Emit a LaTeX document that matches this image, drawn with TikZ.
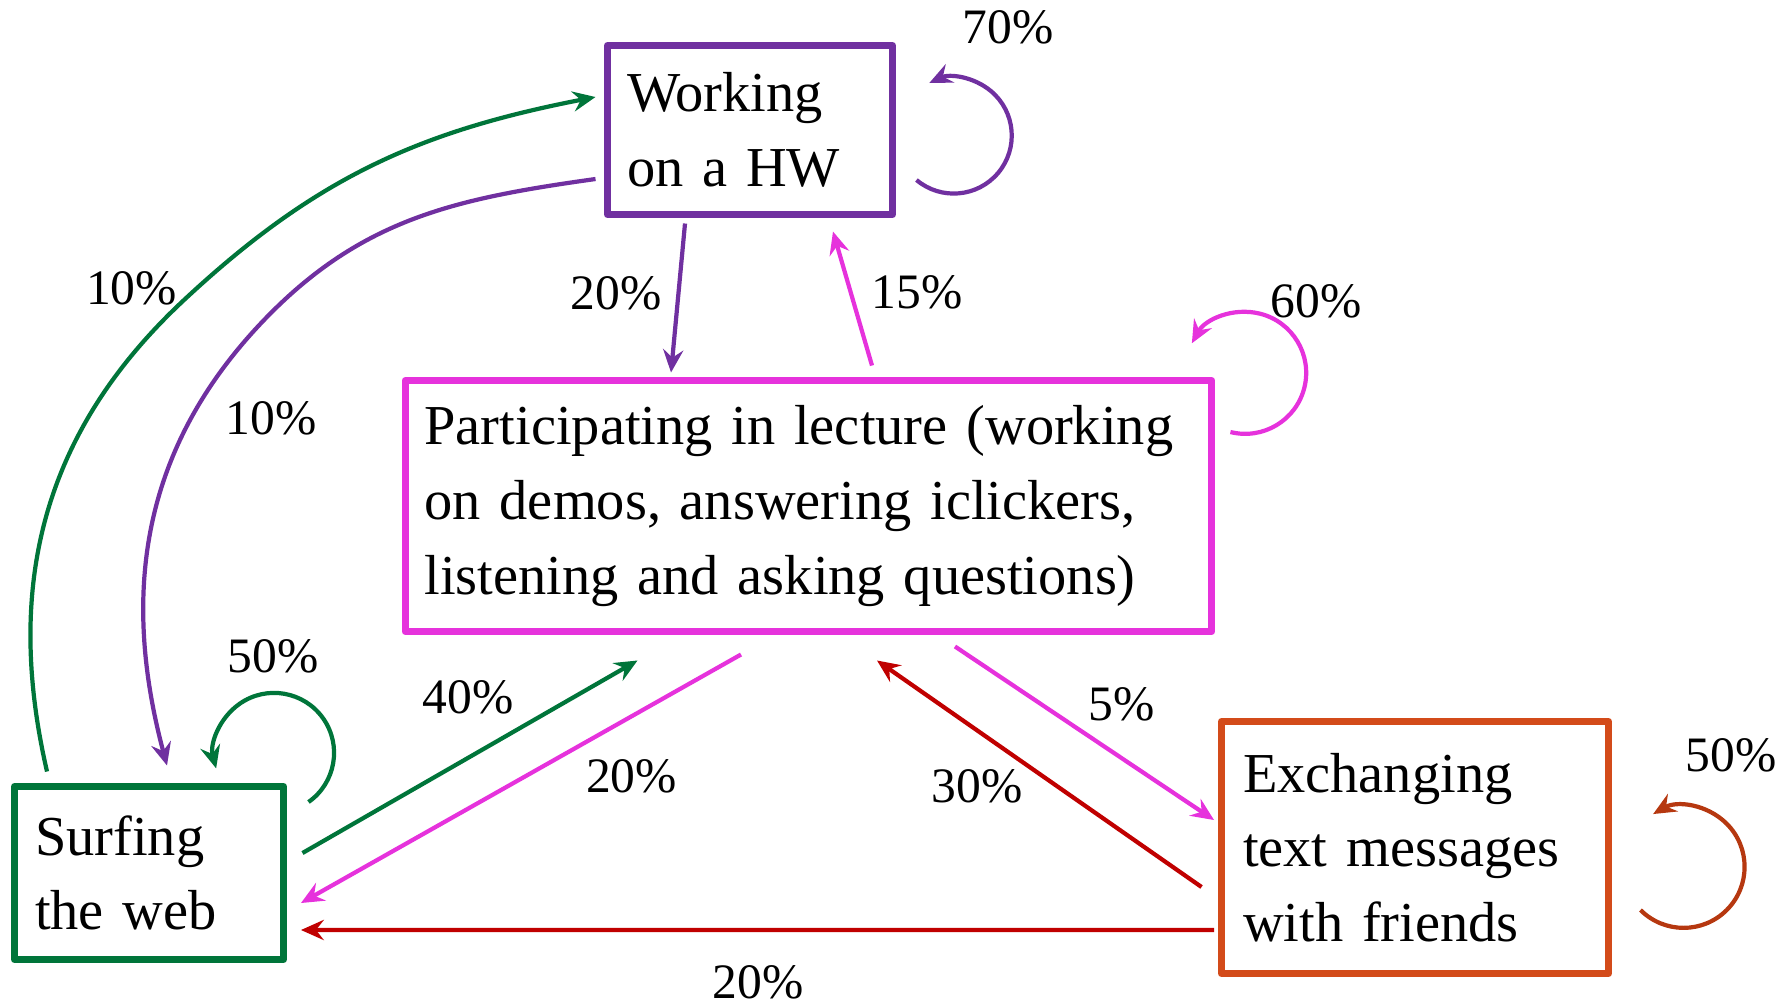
\documentclass[tikz,border=0pt]{standalone}
\usepackage{fontspec}
\setmainfont{Liberation Serif}
\usetikzlibrary{arrows.meta}
\definecolor{hwpurple}{RGB}{112,48,160}
\definecolor{webgreen}{RGB}{0,117,58}
\definecolor{lecpink}{RGB}{230,50,220}
\definecolor{txtorange}{RGB}{211,75,26}
\definecolor{looporange}{RGB}{182,56,16}
\definecolor{darkred}{RGB}{192,0,0}
\begin{document}
\begin{tikzpicture}[x=0.02cm,y=0.02cm,
  box/.style={draw, line width=4pt, line join=round, align=left, inner ysep=0pt,
    font=\fontsize{32.1}{42.5}\selectfont},
  pct/.style={inner sep=0pt, anchor=base, font=\fontsize{28.2}{34}\selectfont},
  conn/.style={line width=2.4pt, -{Stealth[length=13pt,width=11.5pt,inset=4.5pt]}}]
\useasboundingbox (0,0) rectangle (1781,-1002);

% boxes
\node[box, draw=hwpurple, minimum width=5.70cm, minimum height=3.38cm,
  inner xsep=0.39cm, text width=4.92cm] (W) at (750,-130) {Working\\on a HW};
\node[box, draw=lecpink, minimum width=16.14cm, minimum height=5.02cm,
  inner xsep=0.39cm, text width=15.36cm] (P) at (808.5,-506)
  {Participating in lecture (working\\on demos, answering iclickers,\\listening and asking questions)};
\node[box, draw=webgreen, minimum width=5.38cm, minimum height=3.46cm,
  inner xsep=0.41cm, text width=4.56cm] (S) at (149,-873) {Surfing\\the web};
\node[box, draw=txtorange, minimum width=7.74cm, minimum height=5.04cm,
  inner xsep=0.43cm, text width=6.88cm] (E) at (1415,-847.5)
  {Exchanging\\text messages\\with friends};

% straight connectors
\draw[conn, hwpurple] ([xshift=-1.30cm,yshift=-0.11cm]W.south) -- ([xshift=-2.75cm,yshift=0.09cm]P.north);
\draw[conn, lecpink] ([xshift=1.27cm,yshift=0.23cm]P.north) -- ([xshift=1.66cm,yshift=-0.27cm]W.south);
\draw[conn, webgreen] ([xshift=0.31cm,yshift=0.40cm]S.east) -- ([xshift=-3.42cm,yshift=-0.51cm]P.south);
\draw[conn, lecpink] ([xshift=-1.35cm,yshift=-0.39cm]P.south) -- ([xshift=0.28cm,yshift=-0.60cm]S.east);
\draw[conn, lecpink] ([xshift=2.93cm,yshift=-0.23cm]P.south) -- ([xshift=-0.08cm,yshift=0.55cm]E.west);
\draw[conn, darkred] ([xshift=-0.33cm,yshift=-0.79cm]E.west) -- ([xshift=1.37cm,yshift=-0.51cm]P.south);
\draw[conn, darkred] ([xshift=-0.08cm,yshift=-1.65cm]E.west) -- ([xshift=0.28cm,yshift=-1.14cm]S.east);

% curved connectors
\draw[conn, webgreen] ([xshift=-2.04cm,yshift=0.23cm]S.north) to[out=103,in=223] (184,-300)
  to[out=43,in=191] ([xshift=-0.17cm,yshift=0.66cm]W.west);
\draw[conn, hwpurple] ([xshift=-0.17cm,yshift=-0.98cm]W.west) to[out=188,in=46] (265,-319)
  to[out=226,in=105] ([xshift=0.36cm,yshift=0.35cm]S.north);

% self loops
\draw[conn, hwpurple] ([xshift=0.41cm,yshift=-1.0cm]W.east) arc[start angle=230,end angle=475,radius=1.16cm];
\draw[conn, lecpink] ([xshift=0.30cm,yshift=1.48cm]P.east) arc[start angle=256,end angle=511,radius=1.22cm];
\draw[conn, webgreen] ([xshift=0.43cm,yshift=1.42cm]S.east) arc[start angle=-55,end angle=195,radius=1.2cm];
\draw[conn, looporange] ([xshift=0.57cm,yshift=-1.25cm]E.east) arc[start angle=-135,end angle=120,radius=1.22cm];

% labels
\node[pct] (l70) at (1008,-43) {70\%};
\node[pct] (l60) at (1316,-317) {60\%};
\node[pct] (l50s) at (273,-672) {50\%};
\node[pct] (l10a) at (131.5,-304) {10\%};
\node[pct] (l10b) at (271,-434) {10\%};
\node[pct] (l40) at (468,-713) {40\%};
\node[pct] (l20a) at (616,-309) {20\%};
\node[pct] (l15) at (917,-308) {15\%};
\node[pct] (l20b) at (631.5,-792) {20\%};
\node[pct] (l5) at (1121.5,-720) {5\%};
\node[pct] (l30) at (977,-802) {30\%};
\node[pct] (l20c) at (758,-998) {20\%};
\node[pct] (l50e) at (1731,-771) {50\%};
\end{tikzpicture}
\end{document}
